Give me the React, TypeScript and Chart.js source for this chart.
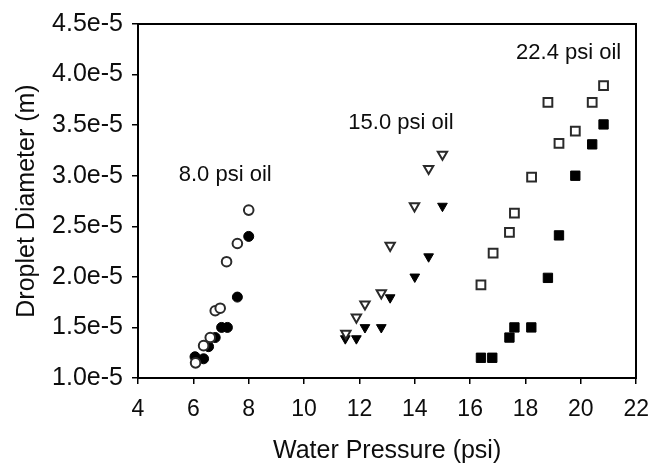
import React, { useEffect, useRef } from "react";
import { Chart, registerables } from "chart.js";

Chart.register(...registerables);

// ---- data ----
const xTickValues = [4, 6, 8, 10, 12, 14, 16, 18, 20, 22];
const xTickLabels = ["4", "6", "8", "10", "12", "14", "16", "18", "20", "22"];
const yTickValues = [1.0e-5, 1.5e-5, 2.0e-5, 2.5e-5, 3.0e-5, 3.5e-5, 4.0e-5, 4.5e-5];
const yTickLabels = ["1.0e-5", "1.5e-5", "2.0e-5", "2.5e-5", "3.0e-5", "3.5e-5", "4.0e-5", "4.5e-5"];

const xTitle = "Water Pressure (psi)";
const yTitle = "Droplet Diameter (m)";

// 8.0 psi oil
const circOpenX = [6.08, 6.37, 6.61, 6.79, 6.97, 7.2, 7.59, 8.0];
const circOpenY = [1.15e-5, 1.32e-5, 1.4e-5, 1.665e-5, 1.69e-5, 2.15e-5, 2.33e-5, 2.66e-5];
const circFillX = [6.06, 6.37, 6.55, 6.79, 7.02, 7.23, 7.59, 8.0];
const circFillY = [1.21e-5, 1.19e-5, 1.31e-5, 1.4e-5, 1.5e-5, 1.5e-5, 1.8e-5, 2.4e-5];

// 15.0 psi oil
const triOpenX = [11.51, 11.89, 12.2, 12.79, 13.11, 13.99, 14.5, 15.0];
const triOpenY = [1.44e-5, 1.6e-5, 1.73e-5, 1.84e-5, 2.31e-5, 2.7e-5, 3.07e-5, 3.21e-5];
const triFillX = [11.49, 11.89, 12.2, 12.79, 13.11, 14.0, 14.5, 15.0];
const triFillY = [1.39e-5, 1.39e-5, 1.5e-5, 1.5e-5, 1.795e-5, 2.0e-5, 2.2e-5, 2.7e-5];

// 22.4 psi oil
const sqOpenX = [16.39, 16.83, 17.42, 17.6, 18.22, 18.81, 19.21, 19.8, 20.41, 20.82];
const sqOpenY = [1.92e-5, 2.235e-5, 2.44e-5, 2.63e-5, 2.985e-5, 3.725e-5, 3.32e-5, 3.44e-5, 3.725e-5, 3.89e-5];
const sqFillX = [16.39, 16.8, 17.42, 17.6, 18.21, 18.81, 19.21, 19.8, 20.41, 20.82];
const sqFillY = [1.2e-5, 1.2e-5, 1.4e-5, 1.5e-5, 1.5e-5, 1.99e-5, 2.41e-5, 3.0e-5, 3.31e-5, 3.507e-5];

const noteTexts = ["8.0 psi oil", "15.0 psi oil", "22.4 psi oil"];
const noteX = [7.15, 13.5, 19.56];
const noteY = [3.01e-5, 3.52e-5, 4.21e-5];

// ---- styling ----
const FONT = "'Liberation Sans', Arial, Helvetica, sans-serif";
const INK = "#0d0d0d";

const pts = (xs: number[], ys: number[]) => xs.map((x, i) => ({ x, y: ys[i] }));

const notesPlugin = {
  id: "notes",
  afterDatasetsDraw(chart: any) {
    const { ctx, scales } = chart;
    ctx.save();
    ctx.fillStyle = INK;
    ctx.font = `22px ${FONT}`;
    ctx.textAlign = "center";
    ctx.textBaseline = "middle";
    noteTexts.forEach((t, i) => {
      ctx.fillText(t, scales.x.getPixelForValue(noteX[i]), scales.y.getPixelForValue(noteY[i]));
    });
    ctx.restore();
  },
};

export default function App() {
  const ref = useRef<HTMLCanvasElement | null>(null);

  useEffect(() => {
    if (!ref.current) return;
    const openStyle = { backgroundColor: "#ffffff", borderColor: "#2a2a2a", borderWidth: 2 };
    const fillStyle = { backgroundColor: "#000", borderColor: "#000", borderWidth: 1 };
    const chart = new Chart(ref.current, {
      type: "scatter",
      data: {
        datasets: [
          { label: "8.0 open", data: pts(circOpenX, circOpenY), pointStyle: "circle", pointRadius: 4.8, ...openStyle },
          { label: "8.0 filled", data: pts(circFillX, circFillY), pointStyle: "circle", pointRadius: 5, ...fillStyle },
          { label: "15.0 open", data: pts(triOpenX, triOpenY), pointStyle: "triangle", pointRotation: 180, pointRadius: 5.4, ...openStyle },
          { label: "15.0 filled", data: pts(triFillX, triFillY), pointStyle: "triangle", pointRotation: 180, pointRadius: 5.6, ...fillStyle },
          { label: "22.4 open", data: pts(sqOpenX, sqOpenY), pointStyle: "rect", pointRadius: 6.2, ...openStyle },
          { label: "22.4 filled", data: pts(sqFillX, sqFillY), pointStyle: "rect", pointRadius: 6.6, ...fillStyle },
        ] as any,
      },
      options: {
        animation: false,
        responsive: false,
        devicePixelRatio: 1,
        layout: { padding: { left: 0, top: 20, right: 15, bottom: 0 } },
        plugins: { legend: { display: false }, tooltip: { enabled: false } },
        scales: {
          x: {
            type: "linear",
            position: "bottom",
            min: 4,
            max: 22,
            afterBuildTicks: (s: any) => {
              s.ticks = xTickValues.map((v) => ({ value: v }));
            },
            afterFit: (s: any) => {
              s.height = 90;
            },
            ticks: {
              color: INK,
              font: { family: FONT, size: 23 },
              padding: 12,
              maxRotation: 0,
              autoSkip: false,
              callback: (_v: any, i: number) => xTickLabels[i],
            },
            grid: { drawOnChartArea: false, drawTicks: true, tickLength: 6, color: "#000", lineWidth: 1.5 },
            border: { display: true, color: "#000", width: 2 },
            title: { display: true, text: xTitle, color: INK, font: { family: FONT, size: 25 }, padding: { top: 0, bottom: 2 } },
          },
          y: {
            type: "linear",
            position: "left",
            min: 1.0e-5,
            max: 4.5e-5,
            afterBuildTicks: (s: any) => {
              s.ticks = yTickValues.map((v) => ({ value: v }));
            },
            afterFit: (s: any) => {
              s.width = 138;
            },
            ticks: {
              color: INK,
              font: { family: FONT, size: 25 },
              padding: 9,
              autoSkip: false,
              callback: (_v: any, i: number) => yTickLabels[i],
            },
            grid: { drawOnChartArea: false, drawTicks: true, tickLength: 6, color: "#000", lineWidth: 1.5 },
            border: { display: true, color: "#000", width: 2 },
            title: { display: true, text: yTitle, color: INK, font: { family: FONT, size: 25 }, padding: { top: 12, bottom: 0 } },
          },
          xTop: {
            type: "linear",
            axis: "x",
            position: "top",
            min: 4,
            max: 22,
            ticks: { display: false },
            grid: { display: false },
            border: { display: true, color: "#000", width: 2 },
            afterFit: (s: any) => {
              s.height = 0;
            },
          },
          yRight: {
            type: "linear",
            axis: "y",
            position: "right",
            min: 1.0e-5,
            max: 4.5e-5,
            ticks: { display: false },
            grid: { display: false },
            border: { display: true, color: "#000", width: 2 },
            afterFit: (s: any) => {
              s.width = 0;
            },
          },
        } as any,
      },
      plugins: [notesPlugin],
    });
    return () => chart.destroy();
  }, []);

  return (
    <div style={{ position: "absolute", left: 0, top: 0, width: 661, height: 468, background: "#fff" }}>
      <canvas ref={ref} width={661} height={468} style={{ display: "block" }} />
    </div>
  );
}
